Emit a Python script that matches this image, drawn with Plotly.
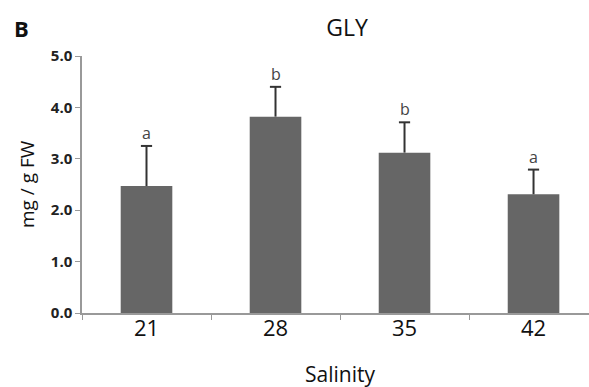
import plotly.graph_objects as go

# Glycerol content by salinity treatment
salinity = ["21", "28", "35", "42"]
gly_mean = [2.47, 3.82, 3.12, 2.31]
gly_sd = [0.78, 0.58, 0.59, 0.48]
group_letters = ["a", "b", "b", "a"]
y_ticks = [0, 1, 2, 3, 4, 5]
y_tick_text = ["0.0", "1.0", "2.0", "3.0", "4.0", "5.0"]

FONT = "Open Sans"
W, H = 589, 387
ML, MR, MT, MB = 82, 0, 56, 74
WHISKER = "#333333"

fig = go.Figure()
fig.add_trace(go.Bar(
    x=salinity,
    y=gly_mean,
    width=0.4,
    marker=dict(color="#666666", line=dict(width=0)),
    hoverinfo="skip",
))

# upper-only error whiskers: stem from the bar top, cap at mean + SD
stem_x, stem_y = [], []
for s, m, e in zip(salinity, gly_mean, gly_sd):
    stem_x += [s, s, None]
    stem_y += [m, m + e, None]
fig.add_trace(go.Scatter(
    x=stem_x, y=stem_y, mode="lines",
    line=dict(color=WHISKER, width=2),
    hoverinfo="skip",
))
fig.add_trace(go.Scatter(
    x=salinity, y=[m + e for m, e in zip(gly_mean, gly_sd)], mode="markers",
    marker=dict(symbol="line-ew-open", size=8, color=WHISKER,
                line=dict(color=WHISKER, width=2)),
    hoverinfo="skip",
))

# significance letters above the error bars
for i, (m, e, lab) in enumerate(zip(gly_mean, gly_sd, group_letters)):
    fig.add_annotation(
        x=i, y=m + e, text=lab, showarrow=False,
        yanchor="bottom", yshift=0,
        font=dict(family=FONT, size=16, color="#444444"),
    )

plot_w = W - ML - MR
plot_h = H - MT - MB

def px_to_paper(px, py):
    return (px - ML) / plot_w, (H - MB - py) / plot_h

bx, by = px_to_paper(21, 28)
fig.add_annotation(
    x=bx, y=by, xref="paper", yref="paper", text="<b>B</b>", showarrow=False,
    xanchor="center", yanchor="middle",
    font=dict(family=FONT, size=22, color="#111111"),
)

lx, ly = px_to_paper(27, 184)
fig.add_annotation(
    x=lx, y=ly, xref="paper", yref="paper", text="mg / g FW", showarrow=False,
    textangle=-90, xanchor="center", yanchor="middle",
    font=dict(family=FONT, size=19, color="#111111"),
)

sx, sy = px_to_paper(340, 374)
fig.add_annotation(
    x=sx, y=sy, xref="paper", yref="paper", text="Salinity", showarrow=False,
    xanchor="center", yanchor="middle",
    font=dict(family=FONT, size=21, color="#111111"),
)

fig.update_layout(
    width=W, height=H,
    margin=dict(l=ML, r=MR, t=MT, b=MB, pad=0),
    paper_bgcolor="white",
    plot_bgcolor="white",
    showlegend=False,
    title=dict(
        text="GLY", xref="container", yref="container",
        x=347 / W, y=1 - 28 / H, xanchor="center", yanchor="middle",
        font=dict(family=FONT, size=23, color="#111111"),
    ),
    xaxis=dict(
        type="category",
        range=[-0.5, 3.43],
        showline=True, linecolor="#999999", linewidth=1.5,
        ticks="outside", tickson="boundaries", ticklen=5, tickcolor="#999999", tickwidth=1,
        tickfont=dict(family=FONT, size=22, color="#111111"),
        ticklabelstandoff=-5,
        showgrid=False, zeroline=False,
    ),
    yaxis=dict(
        range=[0, 5],
        tickvals=y_ticks, ticktext=y_tick_text,
        showline=True, linecolor="#999999", linewidth=1.5,
        ticks="outside", ticklen=5, tickcolor="#999999", tickwidth=1,
        tickfont=dict(family=FONT, size=15, color="#222222", weight="bold"),
        showgrid=False, zeroline=False,
    ),
)

fig.write_html("out.html")
